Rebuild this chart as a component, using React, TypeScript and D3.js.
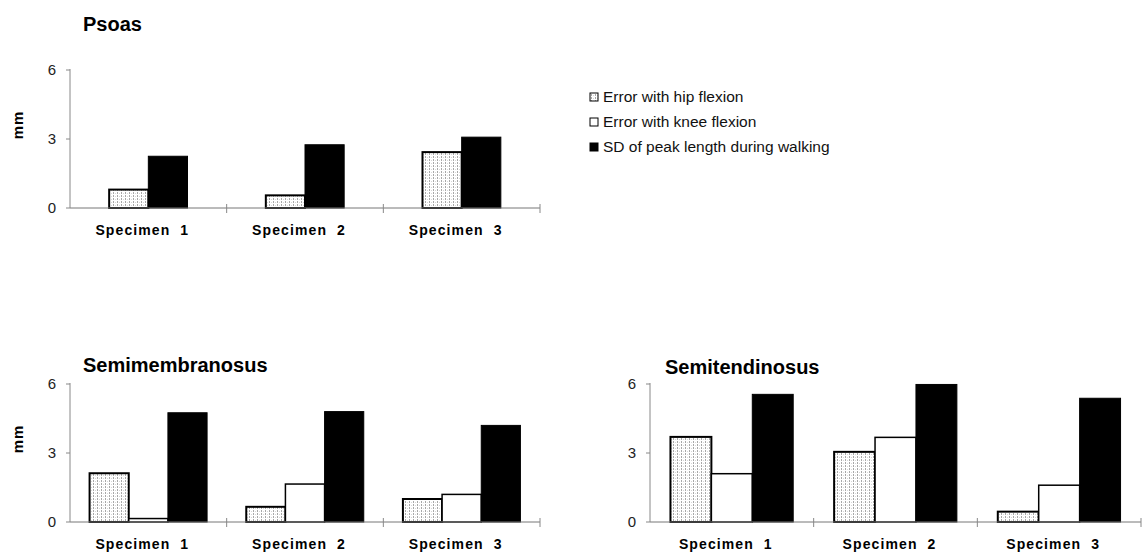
import React from 'react';
import * as d3 from 'd3';

// values (mm)
const categories = ['Specimen  1', 'Specimen  2', 'Specimen  3'];
const seriesNames = ['Error with hip flexion', 'Error with knee flexion', 'SD of peak length during walking'];
const yTicks = [0, 3, 6];

const psoasHip = [0.8, 0.55, 2.43];
const psoasKnee: (number | null)[] = [null, null, null];
const psoasSD = [2.25, 2.75, 3.08];

const semimemHip = [2.12, 0.66, 1.0];
const semimemKnee = [0.15, 1.65, 1.2];
const semimemSD = [4.75, 4.8, 4.2];

const semitenHip = [3.7, 3.05, 0.45];
const semitenKnee = [2.1, 3.68, 1.6];
const semitenSD = [5.55, 5.98, 5.38];

const FONT = '"Liberation Sans", Arial, Helvetica, sans-serif';

type PanelProps = {
  title: string;
  hip: (number | null)[];
  knee: (number | null)[];
  sd: (number | null)[];
  x0: number;
  x1: number;
  zero: number;
  top: number;
  titleX: number;
  titleY: number;
  showUnit: boolean;
};

function Panel({ title, hip, knee, sd, x0, x1, zero, top, titleX, titleY, showUnit }: PanelProps) {
  const x = d3.scaleBand<string>().domain(categories).range([x0, x1]).paddingInner(0).paddingOuter(0);
  const y = d3.scaleLinear().domain([0, 6]).range([zero, top]);
  const bw = x.bandwidth() * 0.25;

  const series = [hip, knee, sd];
  const styles = [
    { fill: 'url(#stipple)', stroke: '#000', sw: 2 },
    { fill: '#fff', stroke: '#000', sw: 1.5 },
    { fill: '#000', stroke: '#000', sw: 1 },
  ];

  // x-axis ticks at the band edges
  const edges = categories.slice(1).map(c => x(c) as number).concat([x1]);

  return (
    <g>
      <text x={titleX} y={titleY} fontFamily={FONT} fontWeight="bold" fontSize={20} fill="#000">{title}</text>
      {showUnit && (
        <text
          transform={`translate(${x0 - 51},${(zero + top) / 2 - 14}) rotate(-90)`}
          textAnchor="middle"
          dominantBaseline="middle"
          fontFamily={FONT}
          fontWeight="bold"
          fontSize={15}
          letterSpacing={1}
        >mm</text>
      )}

      {/* bars */}
      {categories.map((c, i) => {
        const present = series.map((s, k) => ({ v: s[i], k })).filter(d => d.v !== null) as { v: number; k: number }[];
        const cx = (x(c) as number) + x.bandwidth() / 2;
        const start = cx - (present.length * bw) / 2;
        return present.map((d, j) => (
          <rect
            key={c + d.k}
            x={start + j * bw}
            y={y(d.v)}
            width={bw}
            height={zero - y(d.v)}
            fill={styles[d.k].fill}
            stroke={styles[d.k].stroke}
            strokeWidth={styles[d.k].sw}
          />
        ));
      })}

      {/* axes */}
      <line x1={x0} x2={x1} y1={zero} y2={zero} stroke="#777" strokeWidth={1} />
      {edges.map((e, i) => (
        <line key={i} x1={e} x2={e} y1={zero - 4} y2={zero + 5} stroke="#888" strokeWidth={1} />
      ))}
      <line x1={x0} x2={x0} y1={zero} y2={top - 1} stroke="#888" strokeWidth={1} />
      {yTicks.map(t => (
        <g key={t}>
          <line x1={x0 - 4} x2={x0} y1={y(t)} y2={y(t)} stroke="#888" strokeWidth={1} />
          <text x={x0 - 14} y={y(t)} dy="0.35em" textAnchor="end" fontFamily={FONT} fontSize={15} fill="#222">{t}</text>
        </g>
      ))}
      {categories.map(c => (
        <text
          key={c}
          x={(x(c) as number) + x.bandwidth() / 2 - 6}
          y={zero + 27}
          textAnchor="middle"
          fontFamily={FONT}
          fontWeight="bold"
          fontSize={14}
          letterSpacing={1.1}
          style={{ whiteSpace: 'pre' }}
        >{c}</text>
      ))}
    </g>
  );
}

function Legend({ x, y }: { x: number; y: number }) {
  const swatch = ['url(#stipple)', '#fff', '#000'];
  return (
    <g>
      {seriesNames.map((n, i) => (
        <g key={n} transform={`translate(${x},${y + i * 25})`}>
          <rect x={0} y={-4} width={8} height={8} fill={swatch[i]} stroke="#000" strokeWidth={1} />
          <text x={13} y={0} dy="0.35em" fontFamily={FONT} fontSize={15.5} fill="#111">{n}</text>
        </g>
      ))}
    </g>
  );
}

export default function App() {
  return (
    <div style={{ position: 'fixed', left: 0, top: 0 }}>
      <svg width={1144} height={556} style={{ display: 'block', background: '#fff' }}>
        <defs>
          <pattern id="stipple" width={4} height={3} patternUnits="userSpaceOnUse">
            <rect width={4} height={3} fill="#fff" />
            <rect x={1} y={0} width={1} height={2} fill="#a8a8a8" />
            <rect x={3} y={1} width={1} height={1} fill="#d8d8d8" />
          </pattern>
        </defs>
        <Panel title="Psoas" hip={psoasHip} knee={psoasKnee} sd={psoasSD}
          x0={70} x1={540} zero={208} top={70} titleX={83} titleY={31} showUnit />
        <Panel title="Semimembranosus" hip={semimemHip} knee={semimemKnee} sd={semimemSD}
          x0={70} x1={540} zero={522} top={384} titleX={83} titleY={372} showUnit />
        <Panel title="Semitendinosus" hip={semitenHip} knee={semitenKnee} sd={semitenSD}
          x0={650} x1={1141} zero={522} top={384} titleX={665} titleY={374} showUnit={false} />
        <Legend x={590} y={97} />
      </svg>
    </div>
  );
}
